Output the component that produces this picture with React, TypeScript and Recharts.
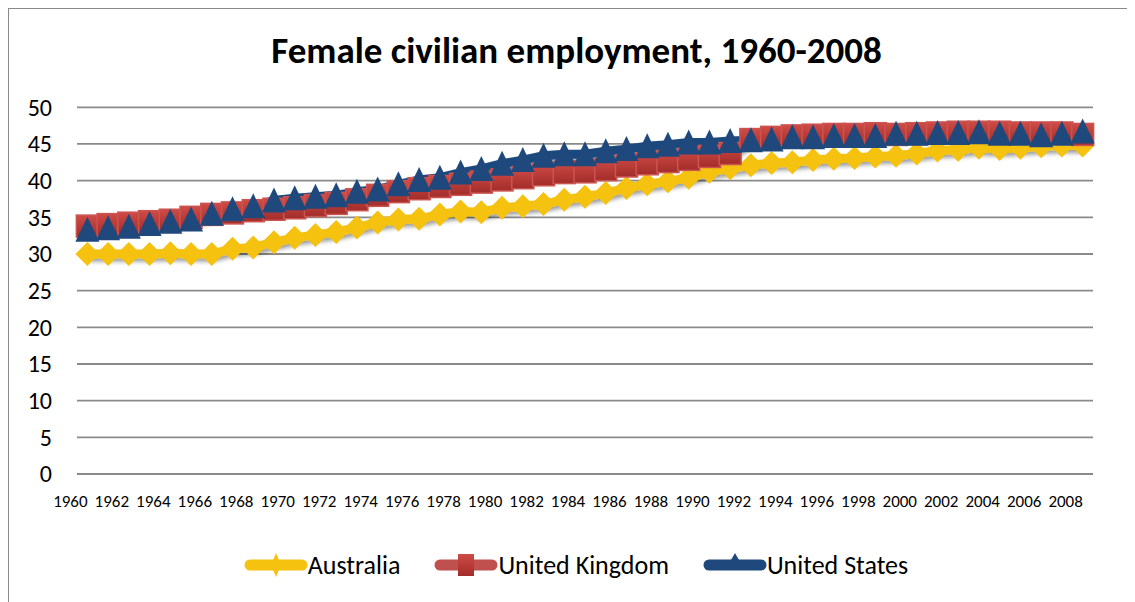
import React from 'react';
import { LineChart, Line, XAxis, YAxis, CartesianGrid, Legend } from 'recharts';

const years = [
  1960, 1961, 1962, 1963, 1964, 1965, 1966, 1967, 1968, 1969,
  1970, 1971, 1972, 1973, 1974, 1975, 1976, 1977, 1978, 1979,
  1980, 1981, 1982, 1983, 1984, 1985, 1986, 1987, 1988, 1989,
  1990, 1991, 1992, 1993, 1994, 1995, 1996, 1997, 1998, 1999,
  2000, 2001, 2002, 2003, 2004, 2005, 2006, 2007, 2008,
];

const australia = [
  30.0, 30.0, 30.0, 30.0, 30.1, 30.0, 30.0, 30.7, 30.9, 31.6,
  32.2, 32.6, 33.0, 33.6, 34.3, 34.7, 34.8, 35.4, 35.8, 35.7,
  36.3, 36.5, 36.8, 37.4, 37.8, 38.3, 39.0, 39.5, 39.9, 40.4,
  41.2, 41.7, 42.1, 42.4, 42.5, 42.8, 43.0, 43.1, 43.3, 43.4,
  43.7, 44.1, 44.2, 44.5, 44.3, 44.5, 44.7, 44.8, 44.8,
];

const unitedKingdom = [
  33.8, 34.0, 34.2, 34.4, 34.6, 35.0, 35.4, 35.6, 35.9, 36.1,
  36.3, 36.6, 36.9, 37.4, 38.0, 38.5, 38.9, 39.2, 39.5, 39.8,
  40.1, 40.4, 40.8, 41.1, 41.2, 41.5, 42.0, 42.3, 42.6, 42.9,
  43.3, 43.7, 45.6, 45.9, 46.1, 46.2, 46.3, 46.3, 46.4, 46.3,
  46.4, 46.5, 46.6, 46.6, 46.6, 46.5, 46.5, 46.5, 46.3,
];

const unitedStates = [
  33.3, 33.5, 33.7, 34.1, 34.4, 34.7, 35.5, 36.1, 36.5, 37.3,
  37.6, 37.8, 38.0, 38.5, 38.8, 39.5, 40.1, 40.4, 41.1, 41.6,
  42.3, 42.8, 43.4, 43.6, 43.6, 44.0, 44.3, 44.7, 44.9, 45.2,
  45.2, 45.4, 45.5, 45.6, 45.9, 45.9, 46.1, 46.1, 46.1, 46.4,
  46.4, 46.5, 46.5, 46.6, 46.4, 46.4, 46.2, 46.4, 46.7,
];

const yTicks = [0, 5, 10, 15, 20, 25, 30, 35, 40, 45, 50];
const seriesNames = ['Australia', 'United Kingdom', 'United States'];
const title = 'Female civilian employment, 1960-2008';

const data = years.map((y, i) => ({
  year: String(y),
  au: australia[i],
  uk: unitedKingdom[i],
  us: unitedStates[i],
}));

const AU = '#F4C20F';
const UK = '#C0504D';
const US = '#1F497D';
const FONT = "Calibri, Carlito, 'Open Sans', sans-serif";

const diamondDot = (p: any) => {
  const { cx, cy, index } = p;
  if (cx == null || cy == null) return <g key={`au-${index}`} />;
  const r = 12;
  return (
    <path
      key={`au-${index}`}
      d={`M${cx},${cy - r}L${cx + r},${cy}L${cx},${cy + r}L${cx - r},${cy}Z`}
      fill={AU}
    />
  );
};

const squareDot = (p: any) => {
  const { cx, cy, index } = p;
  if (cx == null || cy == null) return <g key={`uk-${index}`} />;
  const s = 11;
  return (
    <rect
      key={`uk-${index}`}
      x={cx - s}
      y={cy - s}
      width={2 * s}
      height={2 * s}
      fill="url(#ukGrad)"
      stroke="#CC5450"
      strokeWidth={1.5}
    />
  );
};

const triangleDot = (p: any) => {
  const { cx, cy, index } = p;
  if (cx == null || cy == null) return <g key={`us-${index}`} />;
  return (
    <path
      key={`us-${index}`}
      d={`M${cx},${cy - 13}L${cx + 12},${cy + 12}L${cx - 12},${cy + 12}Z`}
      fill={US}
    />
  );
};

const XTick = (p: any) => {
  const { x, y, payload } = p;
  return (
    <text x={x - 17} y={y + 27} dy="0.35em" textAnchor="middle" fontSize={17} fill="#000" fontFamily={FONT}>
      {payload.value}
    </text>
  );
};

const YTick = (p: any) => {
  const { x, y, payload } = p;
  return (
    <text x={x - 25} y={y} dy="0.35em" textAnchor="end" fontSize={24} fill="#000" fontFamily={FONT}>
      {payload.value}
    </text>
  );
};

const LegendIcon = ({ kind }: { kind: number }) => {
  const color = kind === 0 ? AU : kind === 1 ? UK : US;
  return (
    <svg width={64} height={32} style={{ display: 'block' }}>
      <line x1={6} y1={16} x2={58} y2={16} stroke={color} strokeWidth={11} strokeLinecap="round" />
      {kind === 0 && <path d="M32,4L37,16L32,28L27,16Z" fill={AU} />}
      {kind === 1 && <rect x={24} y={5} width={16} height={22} fill="url(#ukGrad)" />}
      {kind === 2 && <path d="M32,4L40,18L24,18Z" fill={US} />}
    </svg>
  );
};

const renderLegend = () => (
  <div
    style={{
      display: 'flex',
      justifyContent: 'center',
      alignItems: 'center',
      gap: 34,
      paddingLeft: 8,
      fontFamily: FONT,
      fontSize: 26,
      color: '#000',
    }}
  >
    {seriesNames.map((n, i) => (
      <div key={n} style={{ display: 'flex', alignItems: 'center' }}>
        <LegendIcon kind={i} />
        <span style={{ marginLeft: 0, lineHeight: '32px' }}>{n}</span>
      </div>
    ))}
  </div>
);

export default function App() {
  return (
    <div
      style={{
        position: 'relative',
        width: 1127,
        height: 594,
        borderLeft: '1px solid #8a8a8a',
        borderTop: '1px solid #8a8a8a',
        boxSizing: 'border-box',
        background: '#fff',
        fontFamily: FONT,
      }}
    >
      <svg width={0} height={0} style={{ position: 'absolute' }}>
        <defs>
          <linearGradient id="ukGrad" x1="0" y1="0" x2="0" y2="1">
            <stop offset="0%" stopColor="#CF4B46" />
            <stop offset="100%" stopColor="#A22D2A" />
          </linearGradient>
          <filter id="shadow" x="-10%" y="-30%" width="120%" height="160%">
            <feDropShadow dx="2" dy="3" stdDeviation="2" floodColor="#000" floodOpacity="0.4" />
          </filter>
        </defs>
      </svg>
      <style>{`.recharts-line { filter: url(#shadow); }`}</style>
      <div
        style={{
          position: 'absolute',
          left: 0,
          top: 20,
          width: 1126,
          paddingLeft: 9,
          boxSizing: 'border-box',
          textAlign: 'center',
          fontWeight: 'bold',
          fontSize: 37,
          lineHeight: '44px',
          color: '#000',
          whiteSpace: 'nowrap',
        }}
      >
        {title}
      </div>
      <LineChart
        width={1126}
        height={593}
        data={data}
        margin={{ top: 98.3, right: 42, bottom: 98, left: 0 }}
      >
        <CartesianGrid vertical={false} stroke="#8a8a8a" strokeWidth={1.8} />
        <XAxis
          dataKey="year"
          interval={1}
          padding={{ left: 10.37, right: 10.37 }}
          tickLine={false}
          axisLine={{ stroke: '#8a8a8a', strokeWidth: 1.8 }}
          tickSize={0}
          tickMargin={0}
          height={30}
          tick={<XTick />}
        />
        <YAxis
          domain={[0, 50]}
          ticks={yTicks}
          width={68}
          axisLine={false}
          tickLine={false}
          tickSize={0}
          tickMargin={0}
          tick={<YTick />}
        />
        <Legend
          content={renderLegend}
          wrapperStyle={{ position: 'absolute', left: 0, top: 540, width: 1126, height: 0, overflow: 'visible' }}
        />
        <Line
          type="linear"
          dataKey="au"
          name="Australia"
          stroke={AU}
          strokeWidth={9}
          dot={diamondDot}
          isAnimationActive={false}
        />
        <Line
          type="linear"
          dataKey="uk"
          name="United Kingdom"
          stroke={UK}
          strokeWidth={9}
          dot={squareDot}
          isAnimationActive={false}
        />
        <Line
          type="linear"
          dataKey="us"
          name="United States"
          stroke={US}
          strokeWidth={9}
          dot={triangleDot}
          isAnimationActive={false}
        />
      </LineChart>
    </div>
  );
}
